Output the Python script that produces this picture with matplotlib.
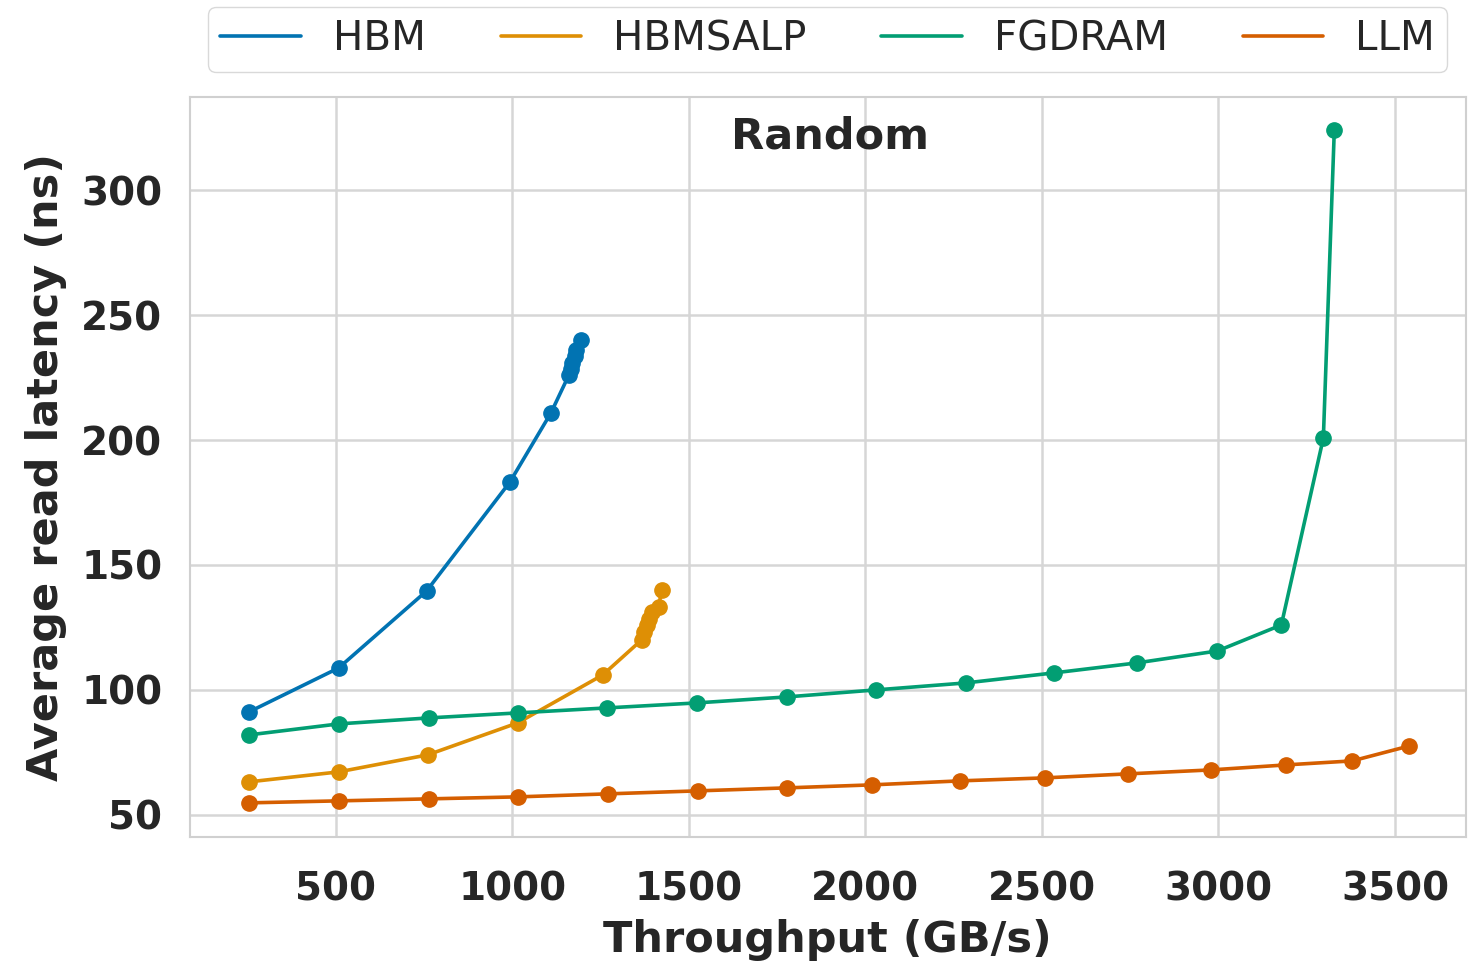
import matplotlib
matplotlib.use("Agg")
import matplotlib.pyplot as plt
import seaborn as sns

sns.set_theme(style="whitegrid")
plt.rcParams['font.family'] = ['DejaVu Sans']

labels = ["HBM", "HBMSALP", "FGDRAM", "LLM"]
colors = ["#0173b2", "#de8f05", "#029e73", "#d55e00"]

hbm_x = [254, 508, 757, 993, 1109, 1160, 1165, 1170, 1176, 1181, 1193]
hbm_y = [91.2, 108.8, 139.6, 183.2, 210.8, 226, 228.5, 231, 233.5, 236, 240]

salp_x = [254, 508, 760, 1015, 1256, 1366, 1372, 1380, 1388, 1396, 1414, 1423]
salp_y = [63.2, 67.2, 74, 86.8, 106, 120, 123, 126, 128.5, 131, 133.2, 140]

fg_x = [254, 508, 763, 1015, 1267, 1522, 1777, 2029, 2284, 2533, 2768, 2997, 3178, 3297, 3328]
fg_y = [82, 86.4, 88.8, 90.8, 92.8, 94.8, 97.2, 100, 102.8, 106.8, 110.8, 115.6, 126, 200.8, 324]

llm_x = [254, 508, 763, 1015, 1270, 1525, 1777, 2018, 2267, 2508, 2743, 2980, 3192, 3379, 3541]
llm_y = [54.8, 55.6, 56.4, 57.2, 58.4, 59.6, 60.8, 62, 63.6, 64.8, 66.4, 68, 70, 71.6, 77.6]

xticks = [500, 1000, 1500, 2000, 2500, 3000, 3500]
yticks = [50, 100, 150, 200, 250, 300]

fig = plt.figure(figsize=(14.73, 9.63), dpi=100)
ax = fig.add_axes([0.129, 0.131, 0.866, 0.768])

series = [(hbm_x, hbm_y), (salp_x, salp_y), (fg_x, fg_y), (llm_x, llm_y)]
handles = []
for (xs, ys), lab, c in zip(series, labels, colors):
    ax.plot(xs, ys, color=c, lw=2.6, marker='o', markersize=11, zorder=3)
    h, = ax.plot([], [], color=c, lw=2.6, label=lab)
    handles.append(h)

ax.set_xlim(87, 3700)
ax.set_ylim(41.2, 337.2)
ax.set_xticks(xticks)
ax.set_yticks(yticks)
ax.tick_params(axis='x', labelsize=28, pad=18)
ax.tick_params(axis='y', labelsize=28, pad=14)
for t in ax.get_xticklabels() + ax.get_yticklabels():
    t.set_fontweight('bold')
for s in ax.spines.values():
    s.set_color('#d0d0d0')
    s.set_linewidth(1.5)
ax.grid(color='#d6d6d6', linewidth=1.8)

ax.set_xlabel("Throughput (GB/s)", fontsize=31, fontweight='bold', labelpad=8)
ax.set_ylabel("Average read latency (ns)", fontsize=31, fontweight='bold', labelpad=10)
ax.text(0.5016, 0.947, "Random", transform=ax.transAxes, ha='center', va='center',
        fontsize=31, fontweight='bold', color='#262626')

fig.legend(handles=handles, loc='center', bbox_to_anchor=(0.562, 0.959), ncol=4,
           fontsize=29, frameon=True, handlelength=2.0, columnspacing=1.85,
           edgecolor='#d0d0d0', fancybox=True, borderpad=0.3)

fig.savefig("out.png", dpi=100)
